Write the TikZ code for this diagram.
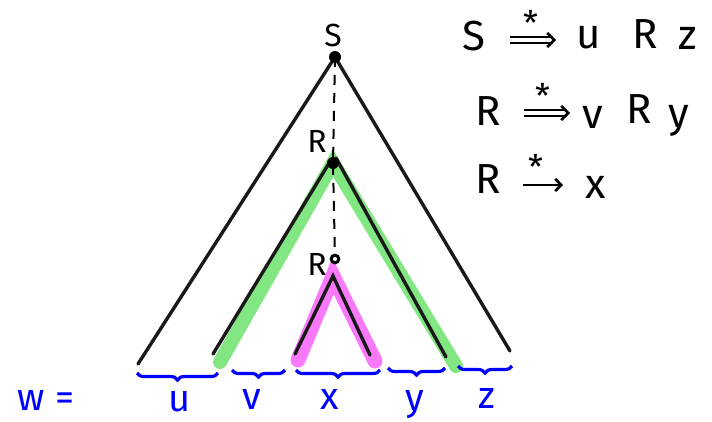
\documentclass[tikz,border=0pt]{standalone}
\usepackage{fontspec}
\setmainfont{Fira Sans}
\usetikzlibrary{decorations.pathreplacing,arrows.meta}
\begin{document}
\begin{tikzpicture}[x=1pt,y=-1pt,
  tree/.style={line width=3.4pt,black!90,line cap=round},
  greenband/.style={line width=14pt,line cap=round,color={rgb,255:red,130;green,230;blue,130}},
  pinkband/.style={line width=15pt,line cap=round,color={rgb,255:red,250;green,120;blue,250}},
  dashline/.style={line width=2pt,black,dash pattern=on 10pt off 8pt},
  lbl/.style={font=\fontsize{32}{36}\selectfont,inner sep=0pt},
  eq/.style={font=\fontsize{42}{46}\selectfont,inner sep=0pt},
  star/.style={font=\fontsize{34}{36}\selectfont,inner sep=0pt},
  derive/.style={line width=2.6pt,double distance=3.5pt,-{Straight Barb[length=7pt,width=14pt]}},
  derivesingle/.style={line width=2.6pt,-{Straight Barb[length=6pt,width=12pt]}},
  wlbl/.style={font=\fontsize{38}{42}\selectfont,inner sep=0pt,text=blue},
  wbrace/.style={decorate,decoration={brace,mirror,amplitude=7pt},line width=3.2pt,blue}]
\useasboundingbox (0,0) rectangle (712,422);
% coordinates
\coordinate (S) at (335,57);
\coordinate (R1) at (333,163);
\coordinate (R2) at (335,259);
\coordinate (P) at (333,276);
\coordinate (Sl) at (138,364);
\coordinate (Sr) at (510,351);
\coordinate (Gl) at (220,362);
\coordinate (Gr) at (456,366);
\coordinate (Bl) at (213,354);
\coordinate (Br) at (446,357);
\coordinate (Pl) at (298,360);
\coordinate (Pr) at (375,361);
\coordinate (Kl) at (295,354);
\coordinate (Kr) at (370,355);
% bands
\draw[greenband] (Gl) -- (R1) -- (Gr);
\draw[pinkband] (Pl) -- (P) -- (Pr);
% tree lines
\draw[tree] (Sl) -- (S) -- (Sr);
\draw[tree] (Bl) -- ([xshift=-2pt,yshift=3pt]R1);
\draw[tree] ([xshift=3pt,yshift=5pt]R1) -- (Br);
\draw[tree] (Kl) -- (P) -- (Kr);
\draw[dashline] (S) -- (R1) -- (R2);
% dots
\fill (S) circle (6pt);
\fill (R1) circle (6pt);
\draw[line width=3pt,fill=white] (R2) circle (3.8pt);
\node[lbl] (lS) at (333,35) {S};
\node[lbl] (lR1) at (317,141) {R};
\node[lbl] (lR2) at (317,264) {R};
% equation 1
\node[eq] (e1S) at (474,36) {S};
\coordinate (a1s) at (510,40);
\coordinate (a1e) at (556,40);
\draw[derive] (a1s) -- (a1e);
\node[star] (s1) at (531,23) {*};
\node[eq] (e1u) at (589,38) {u};
\node[eq] (e1R) at (645,34) {R};
\node[eq] (e1z) at (688,38) {z};
% equation 2
\node[eq] (e2R) at (488,111) {R};
\coordinate (a2s) at (524,113);
\coordinate (a2e) at (570,113);
\draw[derive] (a2s) -- (a2e);
\node[star] (s2) at (543,96) {*};
\node[eq] (e2v) at (593,117) {v};
\node[eq] (e2R2) at (639,109) {R};
\node[eq] (e2y) at (679,121) {y};
% equation 3
\node[eq] (e3R) at (488,179) {R};
\coordinate (a3s) at (523,185);
\coordinate (a3e) at (563,185);
\draw[derivesingle] (a3s) -- (a3e);
\node[star] (s3) at (536,167) {*};
\node[eq] (e3x) at (596,187) {x};
% braces
\draw[wbrace] (137,373) -- (218,373);
\draw[wbrace] (232,370) -- (285,370);
\draw[wbrace] (296,370) -- (380,370);
\draw[wbrace] (388,368) -- (445,368);
\draw[wbrace] (458,366) -- (512,366);
% word labels
\node[wlbl] (w) at (46,400) {w =};
\node[wlbl] (u) at (180,402) {u};
\node[wlbl] (v) at (252,399) {v};
\node[wlbl] (x) at (330,399) {x};
\node[wlbl] (y) at (415,405) {y};
\node[wlbl] (z) at (487,398) {z};
\end{tikzpicture}
\end{document}
